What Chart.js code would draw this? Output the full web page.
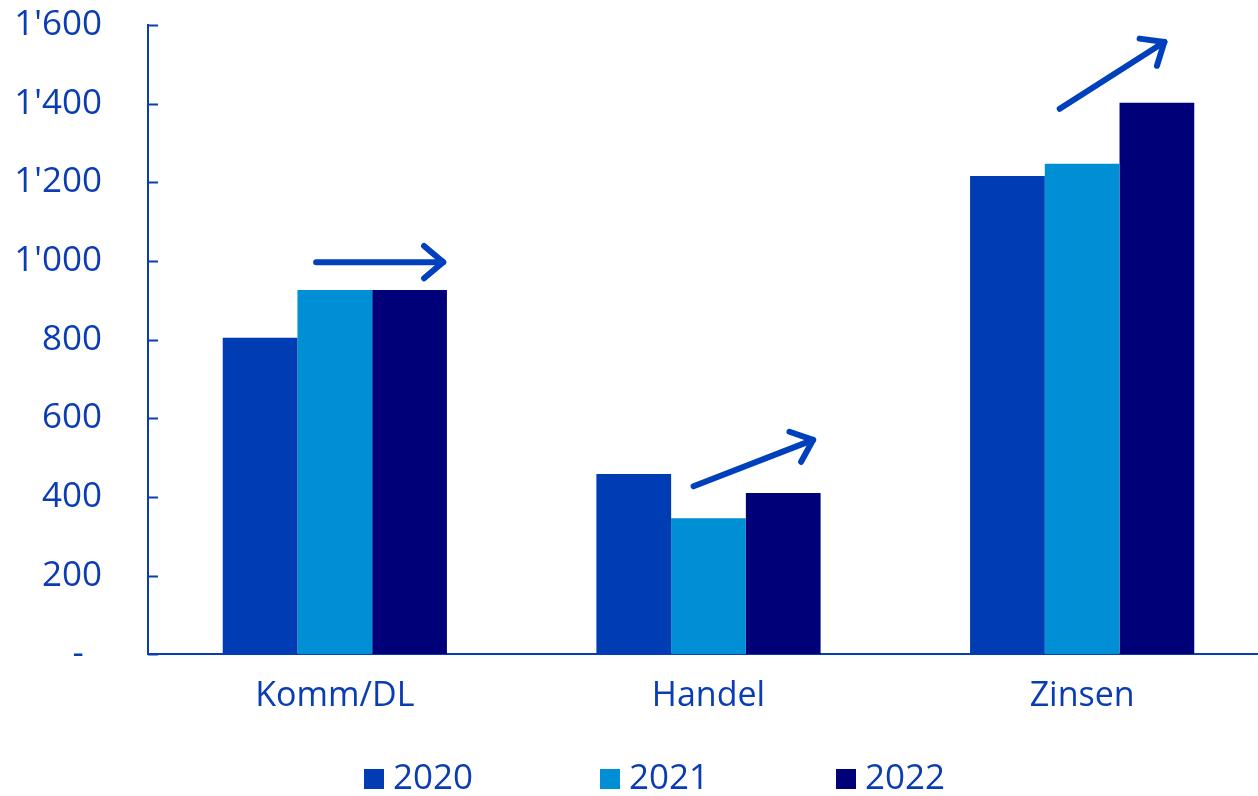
<!DOCTYPE html>
<html>
<head>
<meta charset="utf-8">
<script src="https://cdn.jsdelivr.net/npm/chart.js@4"></script>
<style>
  html, body { margin: 0; padding: 0; background: #fff; overflow: hidden; }
  #wrap { width: 1269px; height: 796px; }
</style>
</head>
<body>
<div id="wrap"><canvas id="chart" width="1269" height="796"></canvas></div>
<script>
const categories = ['Komm/DL', 'Handel', 'Zinsen'];
const years = ['2020', '2021', '2022'];
const values2020 = [805, 458, 1216];
const values2021 = [926, 346, 1247];
const values2022 = [926, 410, 1402];
const yTicks = [0, 200, 400, 600, 800, 1000, 1200, 1400, 1600];

// trend arrows: category index, start/end offset (fraction of a category), start/end value
const arrowCat = [0, 1, 2];
const arrowFrom = [[-0.05, 997], [-0.04, 427], [-0.06, 1387]];
const arrowTo = [[0.29, 997], [0.28, 545], [0.22, 1557]];

const blue = '#0a3cb4';
const colors = ['#003cb4', '#008fd4', '#000078'];
const fontFamily = 'Open Sans';

// accounting style: 1'400, zero as a dash
function fmt(v) {
    if (v === 0) return '-  ';
    const s = String(v);
    return s.length > 3 ? s.slice(0, -3) + "'" + s.slice(-3) : s;
}

// small ticks on the inner side of the y axis
const innerTicks = {
    id: 'innerTicks',
    afterDraw(chart) {
        const ys = chart.scales.y;
        const ctx = chart.ctx;
        const x0 = chart.chartArea.left;
        ctx.save();
        ctx.strokeStyle = blue;
        ctx.lineWidth = 2;
        yTicks.forEach(v => {
            const y = Math.round(ys.getPixelForValue(v)) + 0.5;
            ctx.beginPath();
            ctx.moveTo(x0, y);
            ctx.lineTo(x0 + 10, y);
            ctx.stroke();
        });
        ctx.restore();
    }
};

const arrows = {
    id: 'arrows',
    afterDatasetsDraw(chart) {
        const xs = chart.scales.x;
        const ys = chart.scales.y;
        const ctx = chart.ctx;
        const step = xs.getPixelForValue(1) - xs.getPixelForValue(0);
        ctx.save();
        ctx.strokeStyle = '#0040bd';
        ctx.lineWidth = 6;
        ctx.lineCap = 'round';
        ctx.lineJoin = 'round';
        arrowCat.forEach((c, i) => {
            const cx = xs.getPixelForValue(c);
            const x1 = cx + arrowFrom[i][0] * step, y1 = ys.getPixelForValue(arrowFrom[i][1]);
            const x2 = cx + arrowTo[i][0] * step, y2 = ys.getPixelForValue(arrowTo[i][1]);
            const a = Math.atan2(y2 - y1, x2 - x1);
            const head = 25, spread = 0.7;
            ctx.beginPath();
            ctx.moveTo(x1, y1);
            ctx.lineTo(x2, y2);
            ctx.stroke();
            ctx.beginPath();
            ctx.moveTo(x2 - head * Math.cos(a - spread), y2 - head * Math.sin(a - spread));
            ctx.lineTo(x2, y2);
            ctx.lineTo(x2 - head * Math.cos(a + spread), y2 - head * Math.sin(a + spread));
            ctx.stroke();
        });
        ctx.restore();
    }
};

// legend row under the axis: square swatch + year
const bottomLegend = {
    id: 'bottomLegend',
    afterDraw(chart) {
        const ctx = chart.ctx;
        const startX = 364, gap = 236, top = 769, box = 20;
        ctx.save();
        ctx.font = '35px "' + fontFamily + '"';
        ctx.textBaseline = 'alphabetic';
        ctx.textAlign = 'left';
        chart.data.datasets.forEach((ds, i) => {
            const x = startX + i * gap;
            ctx.fillStyle = ds.backgroundColor;
            ctx.fillRect(x, top, box, box);
            ctx.fillStyle = blue;
            ctx.fillText(ds.label, x + box + 9, top + box);
        });
        ctx.restore();
    }
};

const ctx = document.getElementById('chart').getContext('2d');
new Chart(ctx, {
    type: 'bar',
    data: {
        labels: categories,
        datasets: [
            { label: years[0], data: values2020, backgroundColor: colors[0] },
            { label: years[1], data: values2021, backgroundColor: colors[1] },
            { label: years[2], data: values2022, backgroundColor: colors[2] }
        ]
    },
    options: {
        responsive: false,
        animation: false,
        layout: { padding: { left: 10, right: 0, top: 25, bottom: 57 } },
        datasets: { bar: { barPercentage: 1, categoryPercentage: 0.6 } },
        plugins: {
            tooltip: { enabled: false },
            legend: { display: false }
        },
        scales: {
            x: {
                grid: { display: false, drawTicks: false },
                border: { color: blue, width: 2 },
                ticks: {
                    color: blue,
                    font: { family: fontFamily, size: 34 },
                    padding: 22
                }
            },
            y: {
                min: 0,
                max: 1600,
                afterBuildTicks(scale) { scale.ticks = yTicks.map(v => ({ value: v })); },
                afterFit(scale) {
                    scale.width = 138;
                    scale.paddingTop = 0;
                    scale.paddingBottom = 0;
                },
                grid: { display: false, drawTicks: false },
                border: { color: blue, width: 2 },
                ticks: {
                    color: blue,
                    font: { family: fontFamily, size: 35 },
                    padding: 46,
                    callback: v => fmt(v)
                }
            }
        }
    },
    plugins: [innerTicks, arrows, bottomLegend]
});
</script>
</body>
</html>
